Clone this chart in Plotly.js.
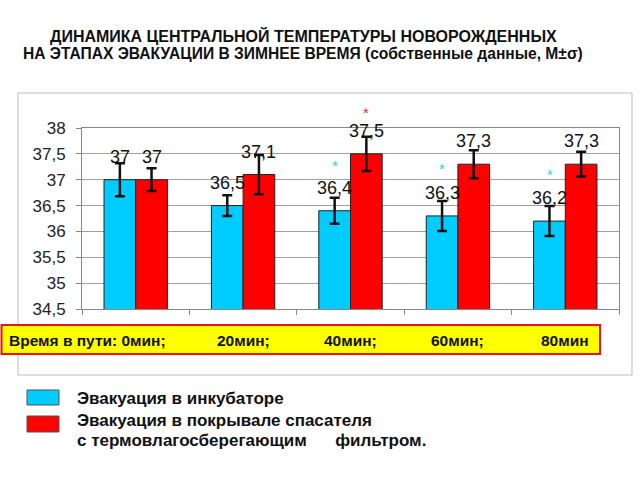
<!DOCTYPE html>
<html>
<head>
<meta charset="utf-8">
<script src="https://cdn.plot.ly/plotly-3.0.1.min.js"></script>
<style>html,body{margin:0;padding:0;background:#fff;}#chart{width:640px;height:480px;}</style>
</head>
<body>
<div id="chart"></div>
<script>
// ---- data ----
var categories = ['0мин', '20мин', '40мин', '60мин', '80мин'];
var incubator = [37, 36.5, 36.4, 36.3, 36.2];
var incubatorSD = [0.32, 0.2, 0.25, 0.29, 0.29];
var blanket = [37, 37.1, 37.5, 37.3, 37.3];
var blanketSD = [0.22, 0.38, 0.33, 0.27, 0.24];
var incubatorSig = [false, false, true, true, true];
var blanketSig = [false, false, true, false, false];
var seriesNames = ['Эвакуация в инкубаторе', 'Эвакуация в покрывале спасателя', 'с термовлагосберегающим\u00A0\u00A0\u00A0\u00A0\u00A0 фильтром.'];
var titleLines = ['ДИНАМИКА ЦЕНТРАЛЬНОЙ ТЕМПЕРАТУРЫ НОВОРОЖДЕННЫХ', 'НА ЭТАПАХ ЭВАКУАЦИИ В ЗИМНЕЕ ВРЕМЯ (собственные данные, M±σ)'];
var timePrefix = 'Время в пути: ';

// ---- layout helpers (pixel -> paper) ----
var L = 82, R = 619, T = 128, B = 309;
function px(x) { return (x - L) / (R - L); }
function py(y) { return (B - y) / (B - T); }
var FONT = 'Liberation Sans, Arial, sans-serif';
var BLUE = '#00CCFF', RED = '#FF0000';

function fmt(v) { return String(v).replace('.', ','); }

var traces = [
  {type: 'bar', x: categories, y: incubator, name: seriesNames[0],
   marker: {color: BLUE, line: {color: '#222', width: 1}},
   error_y: {type: 'data', array: incubatorSD, visible: true, color: '#111', thickness: 2.5, width: 5},
   hoverinfo: 'skip'},
  {type: 'bar', x: categories, y: blanket, name: seriesNames[1],
   marker: {color: RED, line: {color: '#222', width: 1}},
   error_y: {type: 'data', array: blanketSD, visible: true, color: '#111', thickness: 2.5, width: 5},
   hoverinfo: 'skip'}
];

var annotations = [];
var shapes = [];
var HALF = 15.8;
categories.forEach(function (c, i) {
  annotations.push({x: c, y: incubator[i], xref: 'x', yref: 'y', text: fmt(incubator[i]),
    showarrow: false, xshift: -HALF, yshift: 11, yanchor: 'bottom',
    font: {family: FONT, size: 18, color: '#111'}});
  annotations.push({x: c, y: blanket[i], xref: 'x', yref: 'y', text: fmt(blanket[i]),
    showarrow: false, xshift: HALF, yshift: 11, yanchor: 'bottom',
    font: {family: FONT, size: 18, color: '#111'}});
  if (incubatorSig[i]) annotations.push({x: c, y: incubator[i] + incubatorSD[i], xref: 'x', yref: 'y', text: '*',
    showarrow: false, xshift: -HALF, yshift: 32, yanchor: 'middle',
    font: {family: FONT, size: 15, color: '#33C8F0'}});
  if (blanketSig[i]) annotations.push({x: c, y: blanket[i] + blanketSD[i], xref: 'x', yref: 'y', text: '*',
    showarrow: false, xshift: HALF, yshift: 24, yanchor: 'middle',
    font: {family: FONT, size: 15, color: '#E0304A'}});
  // time labels in the yellow box
  if (i === 0) {
    annotations.push({x: px(7), y: py(340), xref: 'paper', yref: 'paper', text: '<b>' + timePrefix + c + ';</b>',
      showarrow: false, xanchor: 'left', yanchor: 'middle', font: {family: FONT, size: 15.5, color: '#111'}});
  } else {
    annotations.push({x: c, y: py(340), xref: 'x', yref: 'paper', text: '<b>' + c + (i < categories.length - 1 ? ';' : '') + '</b>',
      showarrow: false, xanchor: 'center', yanchor: 'middle', font: {family: FONT, size: 15.5, color: '#111'}});
  }
});

// title
annotations.push({x: px(303), y: py(36), xref: 'paper', yref: 'paper', text: '<b>' + titleLines[0] + '</b>',
  showarrow: false, xanchor: 'center', yanchor: 'middle', font: {family: FONT, size: 16, color: '#111'}});
annotations.push({x: px(303), y: py(53), xref: 'paper', yref: 'paper', text: '<b>' + titleLines[1] + '</b>',
  showarrow: false, xanchor: 'center', yanchor: 'middle', font: {family: FONT, size: 15.6, color: '#111'}});

// legend text
[398, 420, 440].forEach(function (yy, k) {
  annotations.push({x: px(75), y: py(yy), xref: 'paper', yref: 'paper', text: '<b>' + seriesNames[k] + '</b>',
    showarrow: false, xanchor: 'left', yanchor: 'middle', font: {family: FONT, size: 17, color: '#111'}});
});

// outer frame
shapes.push({type: 'rect', xref: 'paper', yref: 'paper', x0: px(18), x1: px(632), y0: py(93), y1: py(375),
  line: {color: '#BBBBBB', width: 1}, fillcolor: 'rgba(0,0,0,0)', layer: 'below'});
// yellow box
shapes.push({type: 'rect', xref: 'paper', yref: 'paper', x0: px(1.5), x1: px(600), y0: py(325), y1: py(354),
  line: {color: '#EE1111', width: 2}, fillcolor: '#FFFF00'});
// legend swatches
shapes.push({type: 'rect', xref: 'paper', yref: 'paper', x0: px(27), x1: px(59), y0: py(390), y1: py(405),
  line: {color: '#555', width: 1}, fillcolor: BLUE});
shapes.push({type: 'rect', xref: 'paper', yref: 'paper', x0: px(27), x1: px(59), y0: py(416), y1: py(432),
  line: {color: '#555', width: 1}, fillcolor: RED});

var layout = {
  width: 640, height: 480,
  margin: {l: L, r: 640 - R, t: T, b: 480 - B, pad: 0},
  paper_bgcolor: '#FFFFFF', plot_bgcolor: '#FFFFFF',
  separators: ', ',
  showlegend: false,
  barmode: 'group', bargap: 0.41, bargroupgap: 0,
  font: {family: FONT, color: '#111'},
  xaxis: {type: 'category', showticklabels: false, ticks: 'outside', ticklen: 5, tickcolor: '#888',
    tickson: 'boundaries', showgrid: false, showline: true, linecolor: '#888', linewidth: 1, mirror: true,
    zeroline: false, fixedrange: true},
  yaxis: {range: [34.5, 38], dtick: 0.5, tick0: 34.5, ticks: 'outside', ticklen: 5, tickcolor: '#888',
    showgrid: true, gridcolor: '#A0A0A0', gridwidth: 1, showline: true, linecolor: '#888', linewidth: 1, mirror: true,
    zeroline: false, tickfont: {family: FONT, size: 17, color: '#222'}, ticklabelstandoff: 7, fixedrange: true},
  annotations: annotations,
  shapes: shapes
};

Plotly.newPlot('chart', traces, layout, {displayModeBar: false, staticPlot: true});
</script>
</body>
</html>
